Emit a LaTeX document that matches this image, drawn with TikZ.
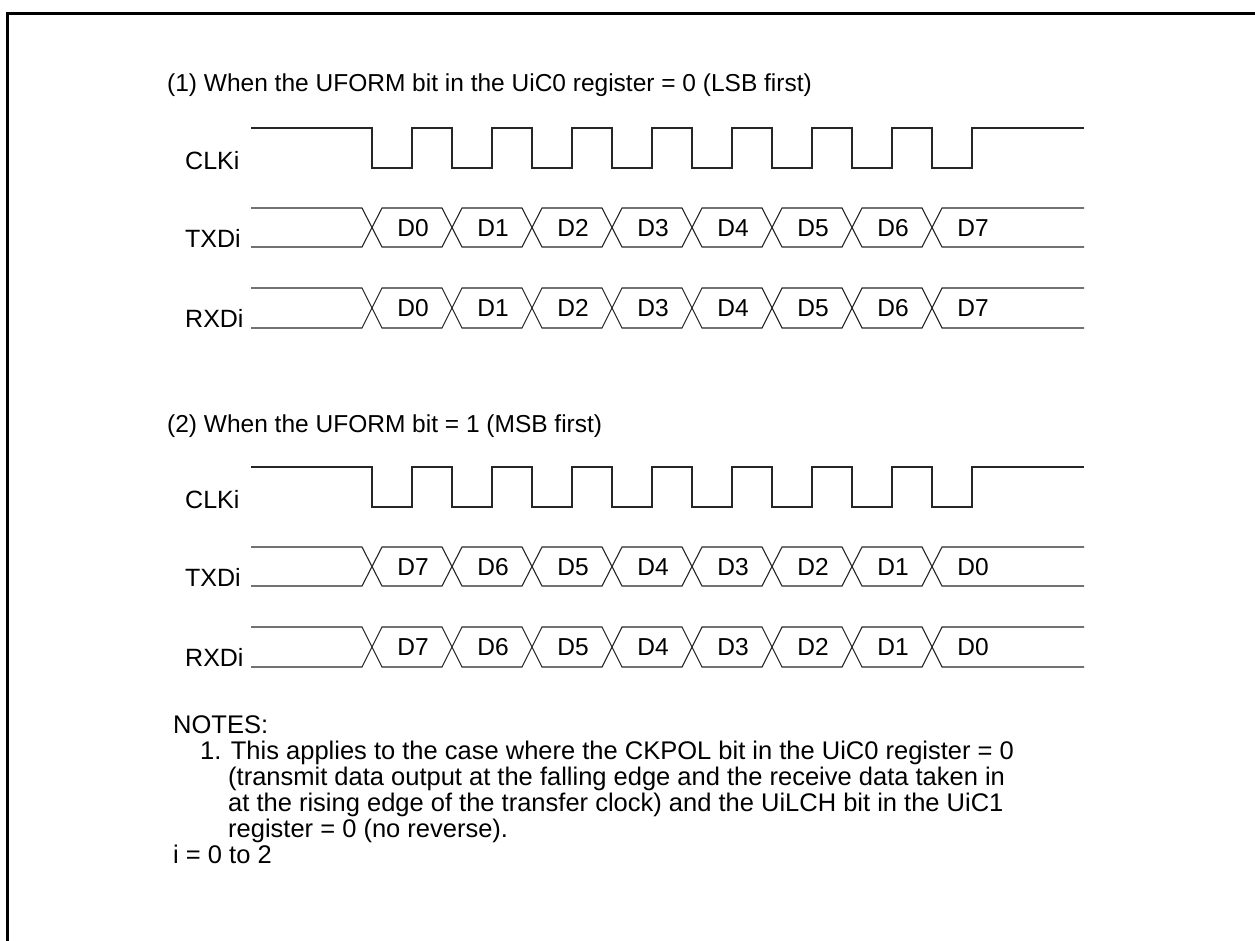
\documentclass[tikz,border=0pt]{standalone}
\usepackage{fontspec}
\setmainfont{Liberation Sans}
\begin{document}
\begin{tikzpicture}[x=1pt,y=-1pt,
  font=\fontsize{24.5}{28}\selectfont,
  sig/.style={line width=1.1pt, draw=black!85, line join=miter},
  lbl/.style={anchor=base west, inner sep=0pt},
  siglbl/.style={lbl, font=\fontsize{25}{28}\selectfont},
  notetext/.style={lbl, font=\fontsize{25.5}{28}\selectfont},
  dat/.style={anchor=base, inner sep=0pt},
  frameline/.style={line width=3pt}]
\useasboundingbox (0,0) rectangle (1255,941);
\draw[frameline] (7.5,941) -- (7.5,14) -- (1255,14);

\foreach \s/\oy/\ttl in {1/0/{(1) When the UFORM bit in the UiC0 register = 0 (LSB first)},
                         2/339/{(2) When the UFORM bit = 1 (MSB first)}}{
  % title
  \node[lbl] (title\s) at (167,92+\oy+\s-1) {\ttl};
  % signal labels
  \node[siglbl] (clk\s) at (185,169.5+\oy) {CLKi};
  \node[siglbl] (tx\s)  at (185,247.5+\oy) {TXDi};
  \node[siglbl] (rx\s)  at (185,327+\oy)   {RXDi};
  % clock
  \draw[sig] (251,128+\oy) -- (372,128+\oy)
    \foreach \k in {0,...,7}{ -- ++(0,40) -- ++(40,0) -- ++(0,-40) -- ++(40,0)}
    -- (1084,128+\oy);
  % data buses
  \foreach \row/\hi/\lo/\bl in {tx/208/247/236.5, rx/288/328/316.5}{
    \pgfmathsetmacro\h{\hi+\oy}
    \pgfmathsetmacro\l{\lo+\oy}
    \pgfmathsetmacro\m{(\hi+\lo)/2+\oy}
    \draw[sig] (251,\h) -- (362,\h) -- (372,\m) -- (362,\l) -- (251,\l);
    \foreach \k in {0,...,6}{
      \pgfmathsetmacro\c{372+80*\k}
      \draw[sig] (\c,\m) -- (\c+10,\h) -- (\c+70,\h) -- (\c+80,\m) -- (\c+70,\l) -- (\c+10,\l) -- cycle;
    }
    \draw[sig] (1084,\h) -- (942,\h) -- (932,\m) -- (942,\l) -- (1084,\l);
    \foreach \k in {0,...,7}{
      \pgfmathtruncatemacro\lab{\s==1 ? \k : 7-\k}
      \node[dat] (\row d\s\k) at (413+80*\k,\bl+\oy) {D\lab};
    }
  }
}

% notes
\node[notetext] (notes) at (173,733) {NOTES:};
\node[notetext] (n1) at (200,759) {1. This applies to the case where the CKPOL bit in the UiC0 register = 0};
\node[notetext] (n2) at (228,785) {(transmit data output at the falling edge and the receive data taken in};
\node[notetext] (n3) at (228,811) {at the rising edge of the transfer clock) and the UiLCH bit in the UiC1};
\node[notetext] (n4) at (228,837) {register = 0 (no reverse).};
\node[notetext] (irange) at (173,863) {i = 0 to 2};
\end{tikzpicture}
\end{document}
